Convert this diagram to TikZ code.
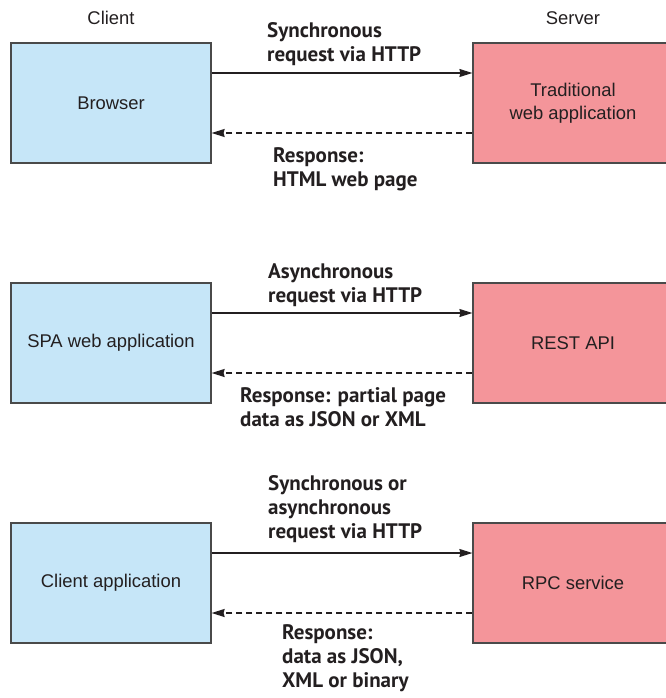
\documentclass[tikz,border=0pt]{standalone}
\usepackage{fontspec}
\setmainfont{Liberation Sans}
\newfontfamily\callfont{PT Sans}
\usetikzlibrary{arrows.meta}
\definecolor{clientblue}{HTML}{C6E6F8}
\definecolor{serverred}{HTML}{F4959A}
\definecolor{edgegray}{HTML}{4A4A4A}
\definecolor{inkgray}{HTML}{231F20}
\tikzset{
  tierbox/.style={draw=edgegray, line width=1.2pt, minimum width=200pt, minimum height=120pt,
    align=center, text=inkgray, font=\fontsize{18.4}{23}\selectfont},
  clientbox/.style={tierbox, fill=clientblue},
  serverbox/.style={tierbox, fill=serverred},
  tiername/.style={text=inkgray, font=\fontsize{18.4}{23}\selectfont},
  calltext/.style={anchor=base west, align=left, inner sep=0pt, text=inkgray,
    font=\callfont\bfseries\fontsize{21}{24}\selectfont},
  callreq/.style={draw=inkgray, line width=1.3pt, -{Stealth[length=13pt,width=8pt,inset=1pt]}},
  callresp/.style={callreq, dash pattern=on 6pt off 4pt}
}
\begin{document}
\begin{tikzpicture}[x=1pt,y=-1pt]
    \useasboundingbox (0,0) rectangle (665,698);
    \node[tiername] (clientname) at (111,18) {Client};
    \node[tiername] (servername) at (573,18) {Server};
    % traditional web app
    \node[clientbox] (browser) at (111,103) {Browser};
    \node[serverbox] (webapp) at (573,103) {Traditional\\web application};
    \draw[callreq] ([yshift=30pt]browser.east) -- ([yshift=30pt]webapp.west);
    \draw[callresp] ([yshift=-30pt]webapp.west) -- ([yshift=-30pt]browser.east);
    \node[calltext] (webreq) at (267,62) {Synchronous\\request via HTTP};
    \node[calltext] (webresp) at (273,186) {Response:\\HTML web page};
    % single page app
    \node[clientbox] (spa) at (111,343) {SPA web application};
    \node[serverbox] (restapi) at (573,343) {REST API};
    \draw[callreq] ([yshift=30pt]spa.east) -- ([yshift=30pt]restapi.west);
    \draw[callresp] ([yshift=-30pt]restapi.west) -- ([yshift=-30pt]spa.east);
    \node[calltext] (spareq) at (268,302) {Asynchronous\\request via HTTP};
    \node[calltext] (sparesp) at (240,426) {Response: partial page\\data as JSON or XML};
    % rpc
    \node[clientbox] (clientapp) at (111,583) {Client application};
    \node[serverbox] (rpc) at (573,583) {RPC service};
    \draw[callreq] ([yshift=30pt]clientapp.east) -- ([yshift=30pt]rpc.west);
    \draw[callresp] ([yshift=-30pt]rpc.west) -- ([yshift=-30pt]clientapp.east);
    \node[calltext] (rpcreq) at (268,538) {Synchronous or\\asynchronous\\request via HTTP};
    \node[calltext] (rpcresp) at (282,687) {Response:\\data as JSON,\\XML or binary};
\end{tikzpicture}
\end{document}
